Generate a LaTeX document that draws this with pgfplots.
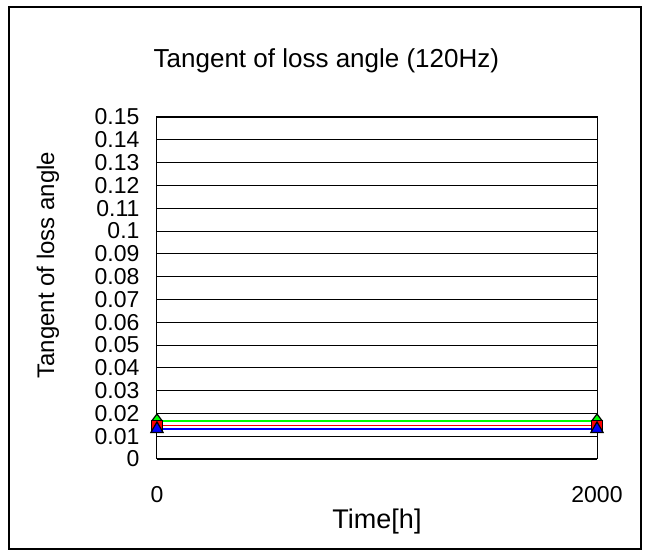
\documentclass[border=0pt]{standalone}
\usepackage{pgfplots}
\pgfplotsset{compat=1.18}
\usepackage{fontspec}
\setmainfont{Liberation Sans}

\begin{document}
\begin{tikzpicture}[x=1pt,y=1pt]
\useasboundingbox (-157,-97) rectangle (493,459);
\draw[line width=2pt] (-148,-90) rectangle (484,452);
\begin{axis}[
    at={(0pt,0pt)}, anchor=south west,
    scale only axis,
    width=440pt, height=342pt,
    xmin=0, xmax=2000,
    ymin=0, ymax=0.15,
    xtick={0,2000},
    ytick={0,0.01,...,0.15},
    ymajorgrids,
    major grid style={black, line width=0.6pt},
    axis line style={black, line width=1pt},
    major tick length=0pt,
    font=\fontsize{23}{25}\selectfont,
    /pgf/number format/assume math mode=true,
    /pgf/number format/1000 sep={},
    yticklabel style={/pgf/number format/fixed, /pgf/number format/precision=2, xshift=-14pt},
    xticklabel style={yshift=-24pt},
    title={Tangent of loss angle (120Hz)},
    title style={font=\fontsize{26}{30}\selectfont, at={(axis description cs:0.385,1)}, anchor=center, yshift=50pt},
    xlabel={Time[h]},
    xlabel style={font=\fontsize{27}{30}\selectfont, at={(axis description cs:0.5,0)}, anchor=center, yshift=-63pt},
    ylabel={Tangent of loss angle},
    ylabel style={font=\fontsize{24}{28}\selectfont, at={(axis description cs:0,0.567)}, anchor=center, yshift=109pt},
    clip=false,
]
\addplot[green, line width=1.5pt, mark=diamond*, mark size=7pt,
    mark options={fill=green, draw=black, line width=1.2pt}]
    coordinates {(0,0.0167) (2000,0.0167)};
\addplot[red, line width=1.5pt, mark=square*, mark size=5.5pt,
    mark options={fill=red, draw=black, line width=1.2pt}]
    coordinates {(0,0.0146) (2000,0.0146)};
\addplot[blue, line width=1.5pt, mark=triangle*, mark size=7pt,
    mark options={fill=blue, draw=black, line width=1.2pt}]
    coordinates {(0,0.0132) (2000,0.0132)};
\end{axis}
\end{tikzpicture}
\end{document}
